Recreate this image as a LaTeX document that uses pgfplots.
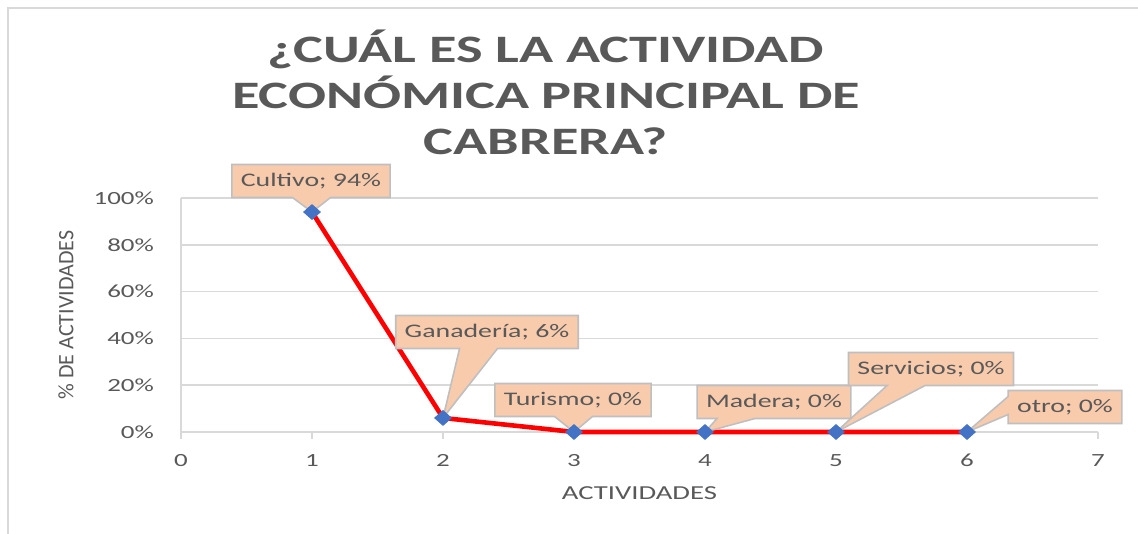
\documentclass[border=0pt]{standalone}
\usepackage{fontspec}
\setmainfont{Carlito}[FakeStretch=1.45]
\newfontfamily\plainfont{Carlito}
\usepackage{pgfplots}
\pgfplotsset{compat=1.18}
\usepackage{pgfplotstable}
\usetikzlibrary{shapes.callouts}
\definecolor{txt}{HTML}{595959}
\definecolor{gridc}{HTML}{D9D9D9}
\definecolor{peach}{HTML}{F8CBAD}
\definecolor{cborder}{HTML}{BFBFBF}
\definecolor{mblue}{HTML}{4472C4}

\pgfplotstableread{
x y
1 0.94
2 0.06
3 0
4 0
5 0
6 0
}\datatable

\tikzset{dlabel/.style={rectangle callout, anchor=center,
    callout pointer width=19pt,
    fill=peach, draw=cborder, line width=0.8pt,
    text=txt, font=\fontsize{9.6}{11}\selectfont,
    inner xsep=4.5pt, minimum height=16.5pt}}

\begin{document}
\begin{tikzpicture}
\path[use as bounding box] (-90.5pt,-51pt) rectangle (478.5pt,216pt);
\draw[gridc, line width=1.2pt] (-86.5pt,-51pt) -- (-86.5pt,212pt) -- (478.5pt,212pt);
\begin{axis}[
  at={(0,0)}, anchor=south west,
  scale only axis, width=458.5pt, height=117pt,
  xmin=0, xmax=7, ymin=0, ymax=1,
  clip=false,
  axis x line*=bottom, axis y line*=left,
  axis line style={draw=gridc, line width=0.8pt},
  xtick={0,1,2,3,4,5,6,7},
  xticklabels={0,1,2,3,4,5,6,7},
  ytick={0,0.2,0.4,0.6,0.8,1},
  yticklabels={0\%,20\%,40\%,60\%,80\%,100\%},
  ymajorgrids, major grid style={draw=gridc, line width=0.8pt},
  tick align=outside, major tick length=3.5pt,
  xtick style={draw=gridc, line width=0.8pt},
  ytick style={draw=none},
  /pgf/number format/assume math mode=true,
  tick label style={font=\fontsize{9.3}{11}\selectfont, text=txt},
  yticklabel style={xshift=-6.5pt},
  xticklabel style={yshift=-4pt},
  xlabel={ACTIVIDADES},
  ylabel={\% DE ACTIVIDADES},
  xlabel style={at={(axis description cs:0.5,-0.2607)}, anchor=center, font=\fontsize{9.9}{12}\selectfont, text=txt},
  ylabel style={at={(axis description cs:-0.1254,0.5)}, anchor=center, font=\plainfont\fontsize{11}{13}\selectfont, text=txt},
]
\addplot[red, line width=2.3pt, mark=diamond*, mark size=3.7pt,
  mark options={solid, fill=mblue, draw=mblue, line width=0.4pt, xscale=1.5}]
  table[x=x, y=y] {\datatable};
\node[dlabel, callout absolute pointer={(axis cs:1,0.94)}] at ([xshift=-0.5pt,yshift=15.5pt]axis cs:1,0.94) {Cultivo; 94\%};
\node[dlabel, callout absolute pointer={(axis cs:2,0.06)}] at ([xshift=22pt,yshift=43pt]axis cs:2,0.06) {Ganadería; 6\%};
\node[dlabel, callout absolute pointer={(axis cs:3,0)}] at ([xshift=-0.5pt,yshift=16pt]axis cs:3,0) {Turismo; 0\%};
\node[dlabel, callout absolute pointer={(axis cs:4,0)}] at ([xshift=34.5pt,yshift=15pt]axis cs:4,0) {Madera; 0\%};
\node[dlabel, callout absolute pointer={(axis cs:5,0)}] at ([xshift=47.5pt,yshift=31.5pt]axis cs:5,0) {Servicios; 0\%};
\node[dlabel, callout pointer width=9pt, callout absolute pointer={(axis cs:6,0)}] at ([xshift=49pt,yshift=12.5pt]axis cs:6,0) {otro; 0\%};
\end{axis}
\node[align=center, text=txt, font=\fontsize{19.4}{23}\selectfont\bfseries] at (182.5pt,170pt)
  {¿CUÁL ES LA ACTIVIDAD\\ECONÓMICA PRINCIPAL DE\\CABRERA?};
\end{tikzpicture}
\end{document}
